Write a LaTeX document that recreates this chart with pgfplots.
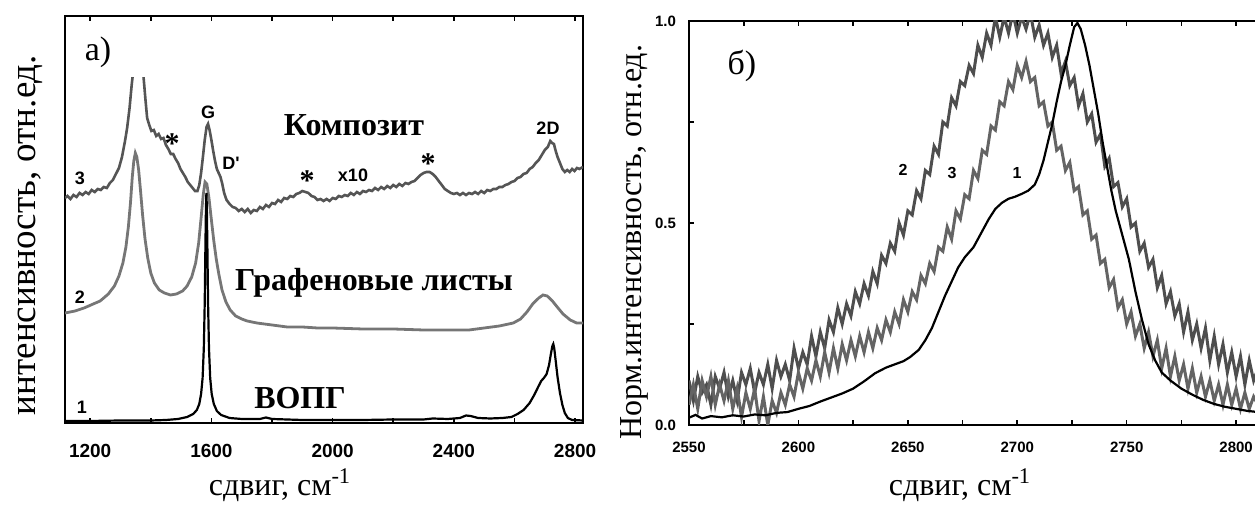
\documentclass[border=0pt]{standalone}
\usepackage{fontspec}
\setmainfont{Liberation Serif}
\newfontfamily\hv{Liberation Sans}
\usepackage{pgfplots}
\pgfplotsset{compat=1.18}
\definecolor{gLa}{RGB}{118,118,118}
\definecolor{gLb}{RGB}{85,85,85}
\definecolor{gRa}{RGB}{78,78,78}
\definecolor{gRb}{RGB}{100,100,100}

\pgfplotsset{
  panel/.style={
    scale only axis, anchor=south west,
    tick align=inside, xtick pos=both, xticklabel pos=bottom,
    major tick length=2.6pt, minor tick length=2.6pt,
    axis line style={line width=1pt},
    every tick/.style={black, line width=0.8pt},
    /pgf/number format/assume math mode=true,
    /pgf/number format/1000 sep={},
  },
}

\begin{document}
\begin{tikzpicture}
\path[use as bounding box] (0,0) rectangle (627.5pt,253.5pt);

% ---- panel a) ----
\begin{axis}[panel,
  at={(32.5pt,42pt)}, width=259pt, height=203.5pt,
  xmin=1117, xmax=2826, ymin=0, ymax=40.7,
  xtick={1200,1600,2000,2400,2800}, minor xtick={1400,1800,2200,2600},
  ytick=\empty,
  xticklabel style={font=\hv\bfseries\fontsize{9.5}{10}\selectfont, yshift=-7pt},
]
% 3: composite (x10)
\addplot[gLb, line width=1.3pt] coordinates {
(1117,22.5)(1125,22.7)(1135,22.4)(1145,22.8)(1155,22.6)(1165,23.0)(1175,22.8)(1185,23.1)
(1195,22.9)(1205,23.3)(1215,23.1)(1225,23.4)(1235,23.3)(1245,23.6)(1255,23.5)(1265,24.0)
(1275,24.3)(1285,24.9)(1295,25.5)(1305,26.6)(1315,28.2)(1322,29.5)(1330,31.5)(1337,33.8)
(1345,36)(1352,37.5)(1360,38)(1368,37)(1375,35)(1382,32.5)(1388,30.5)(1395,29.8)
(1402,29.2)(1410,29.3)(1418,28.7)(1426,28.9)(1434,28.4)(1442,28.5)(1450,27.8)(1458,27.4)
(1466,26.9)(1474,26.9)(1482,26.4)(1490,26.0)(1498,25.4)(1506,25.0)(1514,24.6)(1522,24.1)
(1530,23.8)(1538,23.5)(1546,23.2)(1554,23.2)(1560,23.8)(1566,25.0)(1572,26.6)(1578,28.3)
(1584,29.6)(1589,29.9)(1594,29.3)(1600,28.3)(1606,27.2)(1612,26.2)(1618,25.4)(1624,25.0)
(1630,24.6)(1636,23.9)(1642,23.0)(1650,22.3)(1660,21.9)(1670,21.6)(1680,21.5)(1690,21.2)
(1700,21.4)(1710,21.1)(1720,21.4)(1730,21.0)(1740,21.3)(1750,21.2)(1760,21.6)(1770,21.4)
(1780,21.8)(1790,21.6)(1800,22.0)(1810,21.9)(1820,22.3)(1830,22.1)(1840,22.5)(1850,22.4)
(1860,22.7)(1870,22.6)(1880,22.9)(1890,23.0)(1900,23.2)(1910,23.1)(1920,23.0)(1930,22.7)
(1940,22.6)(1950,22.3)(1960,22.4)(1970,22.2)(1980,22.4)(1990,22.2)(2000,22.5)(2010,22.4)
(2020,22.7)(2030,22.6)(2040,22.8)(2050,22.7)(2060,23.0)(2070,22.8)(2080,23.1)(2090,22.9)
(2100,23.2)(2110,23.1)(2120,23.3)(2130,23.2)(2140,23.5)(2150,23.3)(2160,23.6)(2170,23.4)
(2180,23.7)(2190,23.5)(2200,23.8)(2210,23.6)(2220,23.9)(2230,23.7)(2240,24.0)(2250,23.9)
(2260,24.1)(2270,24.2)(2280,24.5)(2290,24.8)(2300,25.0)(2310,25.1)(2320,25.1)(2330,24.9)
(2340,24.6)(2350,24.2)(2360,23.8)(2370,23.4)(2380,23.2)(2390,23.0)(2400,22.9)(2410,23.0)
(2420,22.8)(2430,23.0)(2440,22.8)(2450,23.0)(2460,22.9)(2470,23.1)(2480,22.9)(2490,23.2)
(2500,23.0)(2510,23.3)(2520,23.2)(2530,23.4)(2540,23.4)(2550,23.6)(2560,23.6)(2570,23.8)
(2580,23.9)(2590,24.1)(2600,24.2)(2610,24.5)(2620,24.6)(2630,24.9)(2640,25.0)(2650,25.4)
(2660,25.6)(2670,26.0)(2680,26.3)(2690,26.8)(2700,27.3)(2710,27.6)(2718,28.2)(2724,28.0)
(2730,27.9)(2736,27.2)(2742,26.6)(2750,26.0)(2758,25.4)(2766,25.1)(2774,25.3)(2782,25.1)
(2790,25.4)(2798,25.2)(2806,25.5)(2814,25.4)(2826,25.6)};
% 2: graphene sheets
\addplot[gLa, line width=1.4pt] coordinates {
(1117,11.0)(1150,11.2)(1180,11.5)(1210,11.9)(1233,12.2)(1260,12.9)(1280,13.7)(1295,14.7)
(1308,16.0)(1318,17.6)(1326,19.6)(1333,22.0)(1339,24.6)(1344,26.2)(1349,27.0)(1354,26.6)
(1360,25.3)(1366,23.3)(1373,20.8)(1381,18.4)(1390,16.5)(1400,15.0)(1412,14.0)(1428,13.3)
(1445,13.0)(1465,12.8)(1485,12.9)(1505,13.2)(1520,13.7)(1535,14.6)(1548,16.0)(1558,18.0)
(1566,20.5)(1573,22.8)(1579,24.1)(1585,23.9)(1592,22.5)(1600,20.3)(1608,18.2)(1616,16.4)
(1625,14.8)(1635,13.3)(1648,12.1)(1662,11.3)(1680,10.7)(1700,10.4)(1718,10.2)(1750,10.0)
(1800,9.8)(1850,9.6)(1900,9.6)(1950,9.5)(2000,9.5)(2100,9.4)(2200,9.4)(2300,9.3)
(2400,9.3)(2450,9.3)(2500,9.5)(2550,9.7)(2596,10.0)(2620,10.4)(2641,11.1)(2660,11.9)
(2680,12.5)(2694,12.8)(2708,12.7)(2725,12.2)(2741,11.6)(2760,10.9)(2784,10.3)(2805,10.0)
(2826,10.0)};
% 1: HOPG
\addplot[black, line width=1.1pt] coordinates {
(1117,0.2)(1200,0.2)(1300,0.25)(1400,0.25)(1450,0.3)(1490,0.4)(1520,0.6)(1540,0.9)
(1552,1.3)(1560,1.9)(1566,2.9)(1571,4.5)(1575,7.5)(1578,12)(1580,17)(1582,21.5)
(1583.5,23)(1585,21.5)(1587,17)(1589,12)(1592,7.5)(1596,4.5)(1601,2.9)(1608,1.9)
(1618,1.2)(1632,0.8)(1660,0.5)(1700,0.4)(1760,0.4)(1780,0.55)(1800,0.4)(1900,0.3)
(2000,0.3)(2100,0.3)(2200,0.35)(2300,0.35)(2330,0.45)(2380,0.4)(2420,0.5)(2440,0.75)
(2455,0.7)(2480,0.5)(2520,0.45)(2560,0.5)(2590,0.6)(2610,0.9)(2630,1.3)(2650,2.0)
(2665,2.8)(2678,3.6)(2688,4.2)(2697,4.5)(2706,4.9)(2714,5.8)(2720,6.9)(2725,7.7)
(2728,7.9)(2731,7.5)(2736,6.2)(2742,4.6)(2750,3.0)(2758,1.8)(2766,1.0)(2776,0.5)
(2790,0.3)(2826,0.25)};
\end{axis}

% ---- panel b) ----
\begin{axis}[panel,
  at={(344.5pt,41pt)}, width=284.5pt, height=202pt,
  xmin=2550, xmax=2810, ymin=0, ymax=1,
  xtick={2550,2600,...,2800}, minor xtick={2575,2625,...,2775},
  ytick={0,0.5,1}, minor ytick={0.25,0.75}, ytick pos=left,
  xticklabel style={font=\hv\bfseries\fontsize{7.5}{8}\selectfont, yshift=-5pt},
  yticklabel style={font=\hv\bfseries\fontsize{7.5}{8}\selectfont, xshift=-3pt,
    /pgf/number format/fixed, /pgf/number format/precision=1,
    /pgf/number format/fixed zerofill},
]
% 2
\addplot[gRa, line width=1.5pt] coordinates {
(2550,0.11)(2552,0.06)(2554,0.12)(2556,0.08)(2558,0.10)(2560,0.05)(2562,0.12)(2564,0.09)
(2566,0.13)(2568,0.07)(2570,0.11)(2572,0.06)(2574,0.13)(2576,0.10)(2578,0.14)(2580,0.08)
(2582,0.13)(2584,0.10)(2586,0.15)(2588,0.09)(2590,0.16)(2592,0.12)(2594,0.15)(2596,0.11)
(2598,0.19)(2600,0.14)(2602,0.18)(2604,0.15)(2606,0.22)(2608,0.17)(2610,0.23)(2612,0.19)
(2614,0.26)(2616,0.23)(2618,0.29)(2620,0.25)(2622,0.30)(2624,0.27)(2626,0.33)(2628,0.30)
(2630,0.35)(2632,0.32)(2634,0.38)(2636,0.35)(2638,0.42)(2640,0.40)(2642,0.45)(2644,0.43)
(2646,0.50)(2648,0.47)(2650,0.53)(2652,0.52)(2654,0.58)(2656,0.56)(2658,0.63)(2660,0.62)
(2662,0.69)(2664,0.67)(2666,0.75)(2668,0.74)(2670,0.81)(2672,0.79)(2674,0.85)(2676,0.84)
(2678,0.89)(2680,0.87)(2682,0.94)(2684,0.91)(2686,0.97)(2688,0.94)(2690,1.01)(2692,0.96)
(2694,1.01)(2696,0.97)(2698,1.02)(2700,0.97)(2702,1.01)(2704,0.98)(2706,1.02)(2708,0.96)
(2710,0.99)(2712,0.94)(2714,0.97)(2716,0.91)(2718,0.94)(2720,0.87)(2722,0.90)(2724,0.84)
(2726,0.86)(2728,0.79)(2730,0.82)(2732,0.75)(2734,0.77)(2736,0.70)(2738,0.72)(2740,0.64)
(2742,0.66)(2744,0.59)(2746,0.60)(2748,0.54)(2750,0.56)(2752,0.49)(2754,0.50)(2756,0.43)
(2758,0.45)(2760,0.39)(2762,0.41)(2764,0.34)(2766,0.37)(2768,0.30)(2770,0.33)(2772,0.27)
(2774,0.30)(2776,0.23)(2778,0.28)(2780,0.21)(2782,0.25)(2784,0.19)(2786,0.24)(2788,0.16)
(2790,0.22)(2792,0.15)(2794,0.20)(2796,0.13)(2798,0.18)(2800,0.12)(2802,0.17)(2804,0.10)
(2806,0.16)(2808,0.11)(2810,0.14)};
% 3
\addplot[gRb, line width=1.5pt] coordinates {
(2550,0.05)(2552,0.10)(2554,0.04)(2556,0.11)(2558,0.07)(2560,0.12)(2562,0.05)(2564,0.10)
(2566,0.06)(2568,0.11)(2570,0.04)(2572,0.09)(2574,0.02)(2576,0.08)(2578,0.04)(2580,0.09)
(2582,0.01)(2584,0.07)(2586,0.00)(2588,0.06)(2590,0.03)(2592,0.08)(2594,0.05)(2596,0.10)
(2598,0.07)(2600,0.13)(2602,0.09)(2604,0.14)(2606,0.11)(2608,0.16)(2610,0.12)(2612,0.18)
(2614,0.13)(2616,0.19)(2618,0.14)(2620,0.20)(2622,0.16)(2624,0.21)(2626,0.17)(2628,0.22)
(2630,0.18)(2632,0.23)(2634,0.19)(2636,0.24)(2638,0.21)(2640,0.26)(2642,0.23)(2644,0.28)
(2646,0.25)(2648,0.31)(2650,0.28)(2652,0.33)(2654,0.31)(2656,0.37)(2658,0.35)(2660,0.40)
(2662,0.38)(2664,0.44)(2666,0.43)(2668,0.49)(2670,0.46)(2672,0.53)(2674,0.51)(2676,0.57)
(2678,0.56)(2680,0.63)(2682,0.61)(2684,0.68)(2686,0.67)(2688,0.74)(2690,0.73)(2692,0.80)
(2694,0.79)(2696,0.85)(2698,0.83)(2700,0.89)(2702,0.86)(2704,0.90)(2706,0.85)(2708,0.86)
(2710,0.79)(2712,0.80)(2714,0.74)(2716,0.75)(2718,0.68)(2720,0.69)(2722,0.63)(2724,0.65)
(2726,0.58)(2728,0.59)(2730,0.52)(2732,0.53)(2734,0.46)(2736,0.47)(2738,0.40)(2740,0.41)
(2742,0.34)(2744,0.36)(2746,0.29)(2748,0.31)(2750,0.25)(2752,0.28)(2754,0.22)(2756,0.25)
(2758,0.19)(2760,0.23)(2762,0.17)(2764,0.21)(2766,0.14)(2768,0.19)(2770,0.12)(2772,0.17)
(2774,0.11)(2776,0.15)(2778,0.09)(2780,0.14)(2782,0.08)(2784,0.12)(2786,0.07)(2788,0.11)
(2790,0.06)(2792,0.10)(2794,0.05)(2796,0.10)(2798,0.05)(2800,0.09)(2802,0.04)(2804,0.08)
(2806,0.04)(2808,0.07)(2810,0.05)};
% 1
\addplot[black, line width=1.1pt] coordinates {
(2550,0.018)(2553,0.025)(2556,0.016)(2560,0.022)(2565,0.019)(2570,0.024)(2575,0.021)
(2580,0.026)(2585,0.024)(2590,0.03)(2595,0.032)(2600,0.04)(2605,0.047)(2610,0.058)
(2615,0.068)(2620,0.078)(2625,0.09)(2630,0.108)(2635,0.128)(2640,0.142)(2645,0.152)
(2648,0.158)(2651,0.168)(2655,0.186)(2658,0.21)(2661,0.24)(2664,0.28)(2667,0.32)
(2670,0.355)(2673,0.39)(2676,0.415)(2680,0.44)(2684,0.48)(2687,0.51)(2690,0.535)
(2693,0.55)(2696,0.56)(2699,0.565)(2702,0.572)(2705,0.58)(2708,0.595)(2710,0.62)
(2712,0.655)(2714,0.70)(2716,0.745)(2718,0.80)(2720,0.85)(2722,0.89)(2724,0.94)
(2726,0.985)(2727.5,0.995)(2729,0.98)(2731,0.94)(2733,0.89)(2735,0.83)(2737,0.77)
(2739,0.70)(2741,0.64)(2743,0.58)(2745,0.53)(2748,0.47)(2751,0.41)(2754,0.33)
(2757,0.26)(2760,0.20)(2763,0.16)(2766,0.13)(2770,0.11)(2775,0.09)(2780,0.075)
(2785,0.062)(2790,0.052)(2795,0.045)(2800,0.04)(2805,0.035)(2810,0.032)};
\end{axis}

% ---- texts, in pixel units of the reference (y up) ----
\begin{scope}[x=0.5pt, y=0.5pt]
\fill[white] (67,507-24) rectangle (157,507-77);
\node[font=\fontsize{17}{17}\selectfont] at (98,507-52) {a)};
\node[font=\hv\bfseries\fontsize{9}{9}\selectfont] at (80,507-178) {3};
\node[font=\hv\bfseries\fontsize{9}{9}\selectfont] at (80,507-297) {2};
\node[font=\hv\bfseries\fontsize{9}{9}\selectfont] at (82,507-407) {1};
\node[font=\hv\bfseries\fontsize{9}{9}\selectfont] at (208,507-112) {G};
\node[font=\hv\bfseries\fontsize{9}{9}\selectfont] at (231,507-163) {D'};
\node[font=\hv\bfseries\fontsize{9}{9}\selectfont] at (353,507-175) {x10};
\node[font=\hv\bfseries\fontsize{9}{9}\selectfont] at (548,507-128) {2D};
\node[font=\bfseries\fontsize{15}{15}\selectfont] at (172,507-144) {*};
\node[font=\bfseries\fontsize{15}{15}\selectfont] at (307,507-181) {*};
\node[font=\bfseries\fontsize{15}{15}\selectfont] at (428,507-164) {*};
\node[font=\bfseries\fontsize{16}{16}\selectfont] at (354,507-125) {Композит};
\node[font=\bfseries\fontsize{16}{16}\selectfont] at (374,507-283) {Графеновые листы};
\node[font=\bfseries\fontsize{16}{16}\selectfont] at (300,507-398) {ВОПГ};
\node[font=\fontsize{16}{16}\selectfont] at (280,507-485) {сдвиг, см\textsuperscript{-1}};
\node[font=\fontsize{18.5}{18.5}\selectfont, rotate=90] at (30,507-235) {интенсивность, отн.ед.};
% panel b
\node[font=\fontsize{17}{17}\selectfont] at (742,507-66) {б)};
\node[font=\hv\bfseries\fontsize{8}{8}\selectfont] at (903,507-170) {2};
\node[font=\hv\bfseries\fontsize{8}{8}\selectfont] at (952,507-173) {3};
\node[font=\hv\bfseries\fontsize{8}{8}\selectfont] at (1017,507-173) {1};
\node[font=\fontsize{16}{16}\selectfont] at (960,507-485) {сдвиг, см\textsuperscript{-1}};
\node[font=\fontsize{16}{16}\selectfont, rotate=90] at (634,507-242) {Норм.интенсивность, отн.ед.};
\end{scope}
\end{tikzpicture}
\end{document}
